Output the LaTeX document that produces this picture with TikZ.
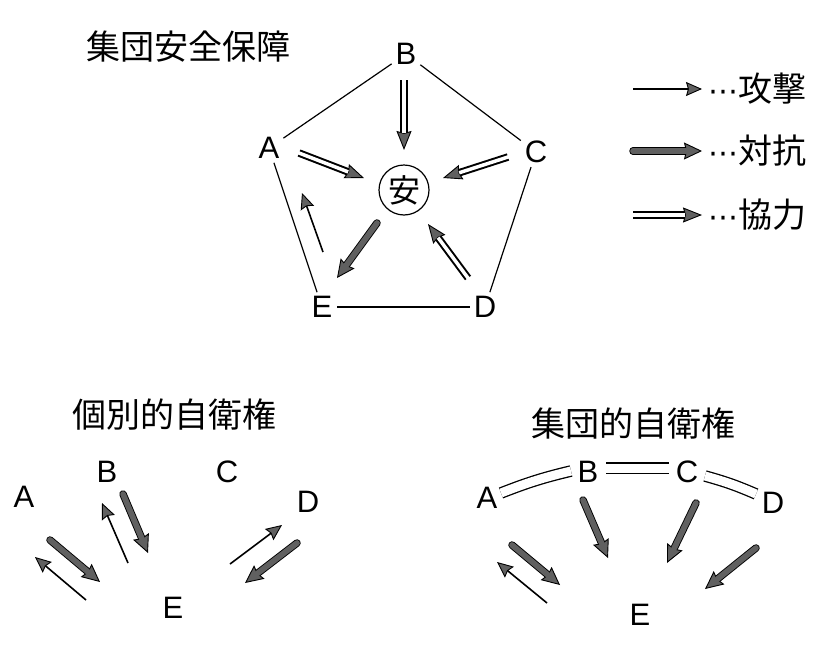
\documentclass[tikz,border=0pt]{standalone}
\usepackage{fontspec}
\setmainfont{Liberation Sans}
\newfontfamily\jpf{Noto Sans CJK JP}
\newfontfamily\dvs{DejaVu Sans}
\usetikzlibrary{arrows.meta}
\definecolor{hd}{RGB}{96,96,96}
\tikzset{
  lett/.style={font=\fontsize{31}{31}\selectfont, inner sep=3pt},
  ttl/.style={font=\jpf\fontsize{34}{34}\selectfont, inner sep=0pt},
  legtext/.style={font=\jpf\fontsize{34}{34}\selectfont, inner sep=0pt, anchor=west},
  edge/.style={line width=1.2pt, shorten <=1pt, shorten >=1pt},
  headtip/.style={-{Stealth[length=18pt,width=17pt,inset=2pt,line width=0.9pt,fill=hd]}},
  dbltip/.style={-{Stealth[length=19pt,width=15pt,inset=2pt,line width=0.9pt,fill=hd]}},
  thinarr/.style={line width=1.6pt, -{Stealth[length=16pt,width=14pt,inset=2pt,line width=0.9pt,fill=hd]}},
  dblline/.style={double, double distance=9pt, line width=1.3pt},
}
\newcommand\thickarr[2]{%
  \draw[line width=7.5pt, line cap=round, headtip] (#1) -- (#2);
  \draw[line width=5.7pt, hd, line cap=round, shorten >=16pt] (#1) -- (#2);
}
\newcommand\dblarr[2]{%
  \draw[line width=7.5pt, dbltip] (#1) -- (#2);
  \draw[line width=3.5pt, white, shorten <=-1pt, shorten >=17pt] (#1) -- (#2);
}
\begin{document}
\begin{tikzpicture}[x=1pt,y=-1pt]
\useasboundingbox (0,0) rectangle (822,648);
% ---------- top: collective security ----------
\node[ttl] (t1) at (188,47) {集団安全保障};
\node[lett] (A) at (269,148) {A};
\node[lett] (B) at (406,54) {B};
\node[lett] (C) at (536,152) {C};
\node[lett] (D) at (485,307) {D};
\node[lett] (E) at (322,307) {E};
\node[draw, circle, line width=1.2pt, minimum size=50pt, inner sep=0pt,
      font=\jpf\fontsize{32}{32}\selectfont] (S) at (404,190) {安};
\draw[edge] (A) -- (B);
\draw[edge] (B) -- (C);
\draw[edge] (C) -- (D);
\draw[edge] (D) -- (E);
\draw[edge] (E) -- (A);
\coordinate (bs1) at (404,80);  \coordinate (bs2) at (404,150);
\coordinate (as1) at (299,153); \coordinate (as2) at (364,178);
\coordinate (cs1) at (508,157); \coordinate (cs2) at (443,178);
\coordinate (ds1) at (468,278); \coordinate (ds2) at (428,224);
\coordinate (se1) at (377,223); \coordinate (se2) at (337,278);
\coordinate (ea1) at (323,252); \coordinate (ea2) at (302,193);
\dblarr{bs1}{bs2}
\dblarr{as1}{as2}
\dblarr{cs1}{cs2}
\dblarr{ds1}{ds2}
\thickarr{se1}{se2}
\draw[thinarr] (ea1) -- (ea2);
% ---------- legend ----------
\coordinate (l1a) at (633,89);  \coordinate (l1b) at (702,89);
\coordinate (l2a) at (633,151); \coordinate (l2b) at (702,151);
\coordinate (l3a) at (633,215); \coordinate (l3b) at (702,215);
\draw[thinarr] (l1a) -- (l1b);
\thickarr{l2a}{l2b}
\dblarr{l3a}{l3b}
\node[legtext] (g1) at (708,89) {{\dvs\fontsize{30}{30}\selectfont ⋯}攻撃};
\node[legtext] (g2) at (708,151) {{\dvs\fontsize{30}{30}\selectfont ⋯}対抗};
\node[legtext] (g3) at (708,215) {{\dvs\fontsize{30}{30}\selectfont ⋯}協力};
% ---------- bottom left: individual self-defence ----------
\node[ttl] (t2) at (174,415) {個別的自衛権};
\node[lett] (A2) at (24,497) {A};
\node[lett] (B2) at (107,472) {B};
\node[lett] (C2) at (227,472) {C};
\node[lett] (D2) at (308,502) {D};
\node[lett] (E2) at (173,608) {E};
\coordinate (p1a) at (50,540);  \coordinate (p1b) at (100,582);
\coordinate (p2a) at (86,600);  \coordinate (p2b) at (35,557);
\coordinate (p3a) at (128,563); \coordinate (p3b) at (102,503);
\coordinate (p4a) at (123,494); \coordinate (p4b) at (148,553);
\coordinate (p5a) at (230,564); \coordinate (p5b) at (282,525);
\coordinate (p6a) at (297,543); \coordinate (p6b) at (245,583);
\thickarr{p1a}{p1b}
\draw[thinarr] (p2a) -- (p2b);
\draw[thinarr] (p3a) -- (p3b);
\thickarr{p4a}{p4b}
\draw[thinarr] (p5a) -- (p5b);
\thickarr{p6a}{p6b}
% ---------- bottom right: collective self-defence ----------
\node[ttl] (t3) at (633,424) {集団的自衛権};
\node[lett] (A3) at (487,498) {A};
\node[lett] (B3) at (588,472) {B};
\node[lett] (C3) at (687,472) {C};
\node[lett] (D3) at (773,503) {D};
\node[lett] (E3) at (640,615) {E};
\coordinate (q1a) at (501,493); \coordinate (q1b) at (571,471);
\coordinate (q2a) at (606,468); \coordinate (q2b) at (669,468);
\coordinate (q3a) at (705,476); \coordinate (q3b) at (756,494);
\draw[dblline] (q1a) to[bend left=4] (q1b);
\draw[dblline] (q2a) -- (q2b);
\draw[dblline] (q3a) to[bend left=4] (q3b);
\coordinate (r1a) at (512,545); \coordinate (r1b) at (560,585);
\coordinate (r2a) at (547,603); \coordinate (r2b) at (497,562);
\coordinate (r3a) at (583,500); \coordinate (r3b) at (608,558);
\coordinate (r4a) at (696,503); \coordinate (r4b) at (667,563);
\coordinate (r5a) at (756,548); \coordinate (r5b) at (705,589);
\thickarr{r1a}{r1b}
\draw[thinarr] (r2a) -- (r2b);
\thickarr{r3a}{r3b}
\thickarr{r4a}{r4b}
\thickarr{r5a}{r5b}
\end{tikzpicture}
\end{document}
